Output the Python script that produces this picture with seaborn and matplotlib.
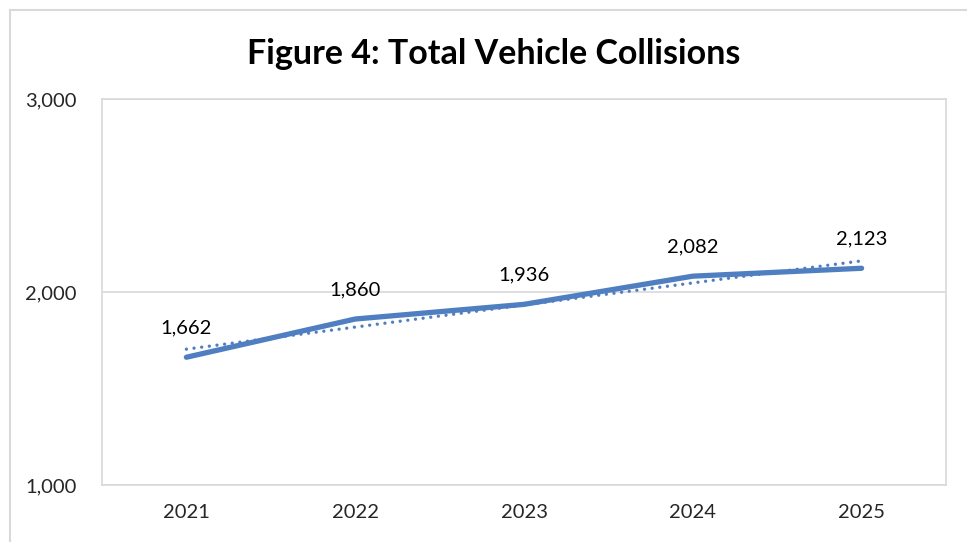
import matplotlib
matplotlib.use('Agg')
import matplotlib.pyplot as plt
import seaborn as sns
import numpy as np
import pandas as pd
from matplotlib.patches import Rectangle

# dados
anos = ['2021', '2022', '2023', '2024', '2025']
colisoes = [1662, 1860, 1936, 2082, 2123]
y_ticks = [1000, 2000, 3000]
y_tick_labels = ['1,000', '2,000', '3,000']

df = pd.DataFrame({'pos': np.arange(len(anos)), 'Ano': anos, 'Colisoes': colisoes})

# linha de tendencia linear (como no Excel)
coef = np.polyfit(df['pos'], df['Colisoes'], 1)
df['Tendencia'] = np.polyval(coef, df['pos'])

sns.set_style("white")
plt.rcParams['font.family'] = ['Lato', 'DejaVu Sans']

fig = plt.figure(figsize=(9.67, 5.42), dpi=100)
ax = fig.add_axes([102 / 967, 57 / 542, 844 / 967, 386 / 542])

cor = '#4F7FC0'
sns.lineplot(data=df, x='pos', y='Colisoes', color=cor, linewidth=3.8, ax=ax,
             solid_capstyle='round')
sns.lineplot(data=df, x='pos', y='Tendencia', color=cor, linewidth=2.4, ax=ax,
             linestyle=(0, (0.01, 2.3)), dash_capstyle='round')

for p, v in zip(df['pos'], df['Colisoes']):
    ax.annotate(f'{v:,}', (p, v), xytext=(0, 15), textcoords='offset points',
                ha='center', va='bottom', fontsize=14.5, color='black')

ax.set_xlim(-0.5, len(anos) - 0.5)
ax.set_ylim(1000, 3000)
ax.set_xticks(df['pos'])
ax.set_xticklabels(anos, fontsize=14.5)
ax.set_yticks(y_ticks)
ax.set_yticklabels(y_tick_labels, fontsize=14.5)
ax.tick_params(axis='both', length=0)
ax.tick_params(axis='x', pad=14)
ax.tick_params(axis='y', pad=18)
ax.set_xlabel('')
ax.set_ylabel('')
ax.yaxis.grid(True, color='#d9d9d9', linewidth=1.2)
for s in ax.spines.values():
    s.set_color('#d9d9d9')
    s.set_linewidth(1.2)

fig.text(494 / 967, 1 - 54 / 542, 'Figure 4: Total Vehicle Collisions',
         ha='center', va='center', fontsize=24.5, fontweight='bold', color='black')

# borda externa do grafico
fig.patches.append(Rectangle((10 / 967, -0.05), 1.0, 1 - 10 / 542 + 0.05,
                             transform=fig.transFigure, fill=False,
                             edgecolor='#d9d9d9', linewidth=1.5))

plt.savefig('out.png', dpi=100)
